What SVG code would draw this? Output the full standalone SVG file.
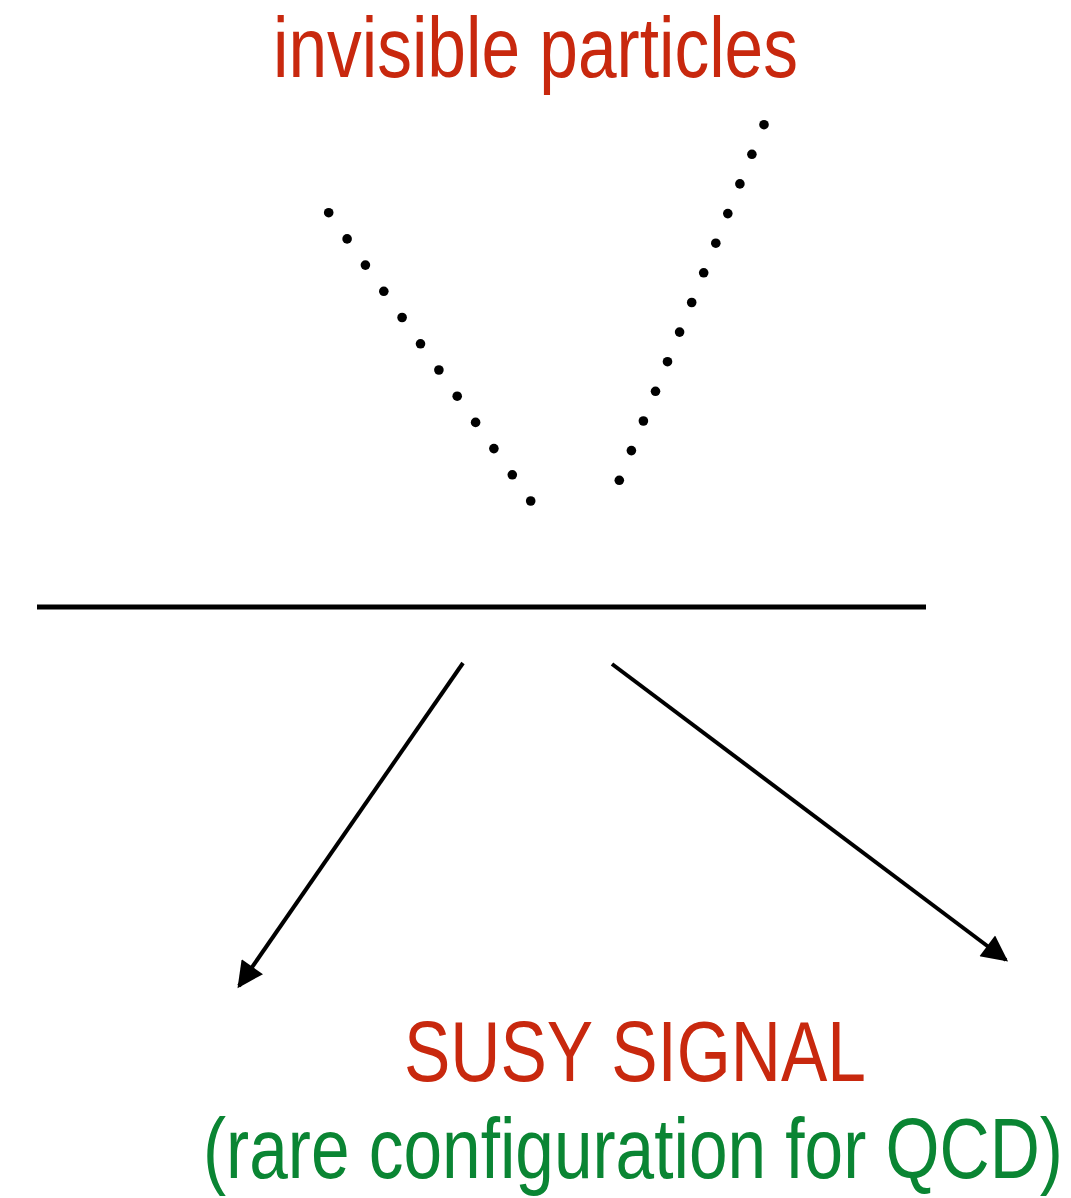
<svg xmlns="http://www.w3.org/2000/svg" width="1071" height="1198" viewBox="0 0 1071 1198">
<style>
.t{font-family:"Liberation Sans",Arial,sans-serif;font-size:85px;}
.red{fill:#c8280e;}
.green{fill:#0a8533;}
.dot{fill:#000;}
.ln{stroke:#000;fill:none;}
</style>
<defs>
<marker id="ah" viewBox="0 0 10 10" refX="9" refY="5" markerUnits="userSpaceOnUse" markerWidth="28" markerHeight="26" orient="auto">
<path d="M0,0 L10,5 L0,10 Z" fill="#000"/>
</marker>
</defs>
<rect width="1071" height="1198" fill="#fff"/>
<g id="title" transform="translate(273,77) scale(0.83,1)">
<text class="t red" x="0" y="0" textLength="632.5" lengthAdjust="spacingAndGlyphs">invisible particles</text>
</g>
<g id="dots-left">
<circle class="dot" cx="328.7" cy="212.7" r="4.8"/>
<circle class="dot" cx="347.1" cy="238.9" r="4.8"/>
<circle class="dot" cx="365.4" cy="265.1" r="4.8"/>
<circle class="dot" cx="383.8" cy="291.3" r="4.8"/>
<circle class="dot" cx="402.1" cy="317.5" r="4.8"/>
<circle class="dot" cx="420.5" cy="343.8" r="4.8"/>
<circle class="dot" cx="438.9" cy="370.0" r="4.8"/>
<circle class="dot" cx="457.2" cy="396.2" r="4.8"/>
<circle class="dot" cx="475.6" cy="422.4" r="4.8"/>
<circle class="dot" cx="493.9" cy="448.6" r="4.8"/>
<circle class="dot" cx="512.3" cy="474.8" r="4.8"/>
<circle class="dot" cx="530.7" cy="501.0" r="4.8"/>
</g>
<g id="dots-right">
<circle class="dot" cx="764.0" cy="124.7" r="4.8"/>
<circle class="dot" cx="751.9" cy="154.3" r="4.8"/>
<circle class="dot" cx="739.9" cy="183.9" r="4.8"/>
<circle class="dot" cx="727.8" cy="213.6" r="4.8"/>
<circle class="dot" cx="715.8" cy="243.2" r="4.8"/>
<circle class="dot" cx="703.7" cy="272.8" r="4.8"/>
<circle class="dot" cx="691.7" cy="302.5" r="4.8"/>
<circle class="dot" cx="679.6" cy="332.1" r="4.8"/>
<circle class="dot" cx="667.5" cy="361.7" r="4.8"/>
<circle class="dot" cx="655.5" cy="391.3" r="4.8"/>
<circle class="dot" cx="643.4" cy="421.0" r="4.8"/>
<circle class="dot" cx="631.4" cy="450.6" r="4.8"/>
<circle class="dot" cx="619.3" cy="480.3" r="4.8"/>
</g>
<g id="beamline">
<line class="ln" x1="37" y1="607" x2="926" y2="607" stroke-width="5"/>
</g>
<g id="connectors">
<line class="ln" x1="463" y1="663" x2="239" y2="986" stroke-width="4" marker-end="url(#ah)"/>
<line class="ln" x1="612" y1="664" x2="1006" y2="960" stroke-width="4" marker-end="url(#ah)"/>
</g>
<g id="signal" transform="translate(404,1081) scale(0.83,1)">
<text class="t red" x="0" y="0" textLength="556.6" lengthAdjust="spacingAndGlyphs">SUSY SIGNAL</text>
</g>
<g id="note" transform="translate(203,1178) scale(0.83,1)">
<text class="t green" x="0" y="0" textLength="1036" lengthAdjust="spacingAndGlyphs">(rare configuration for QCD)</text>
</g>
</svg>
